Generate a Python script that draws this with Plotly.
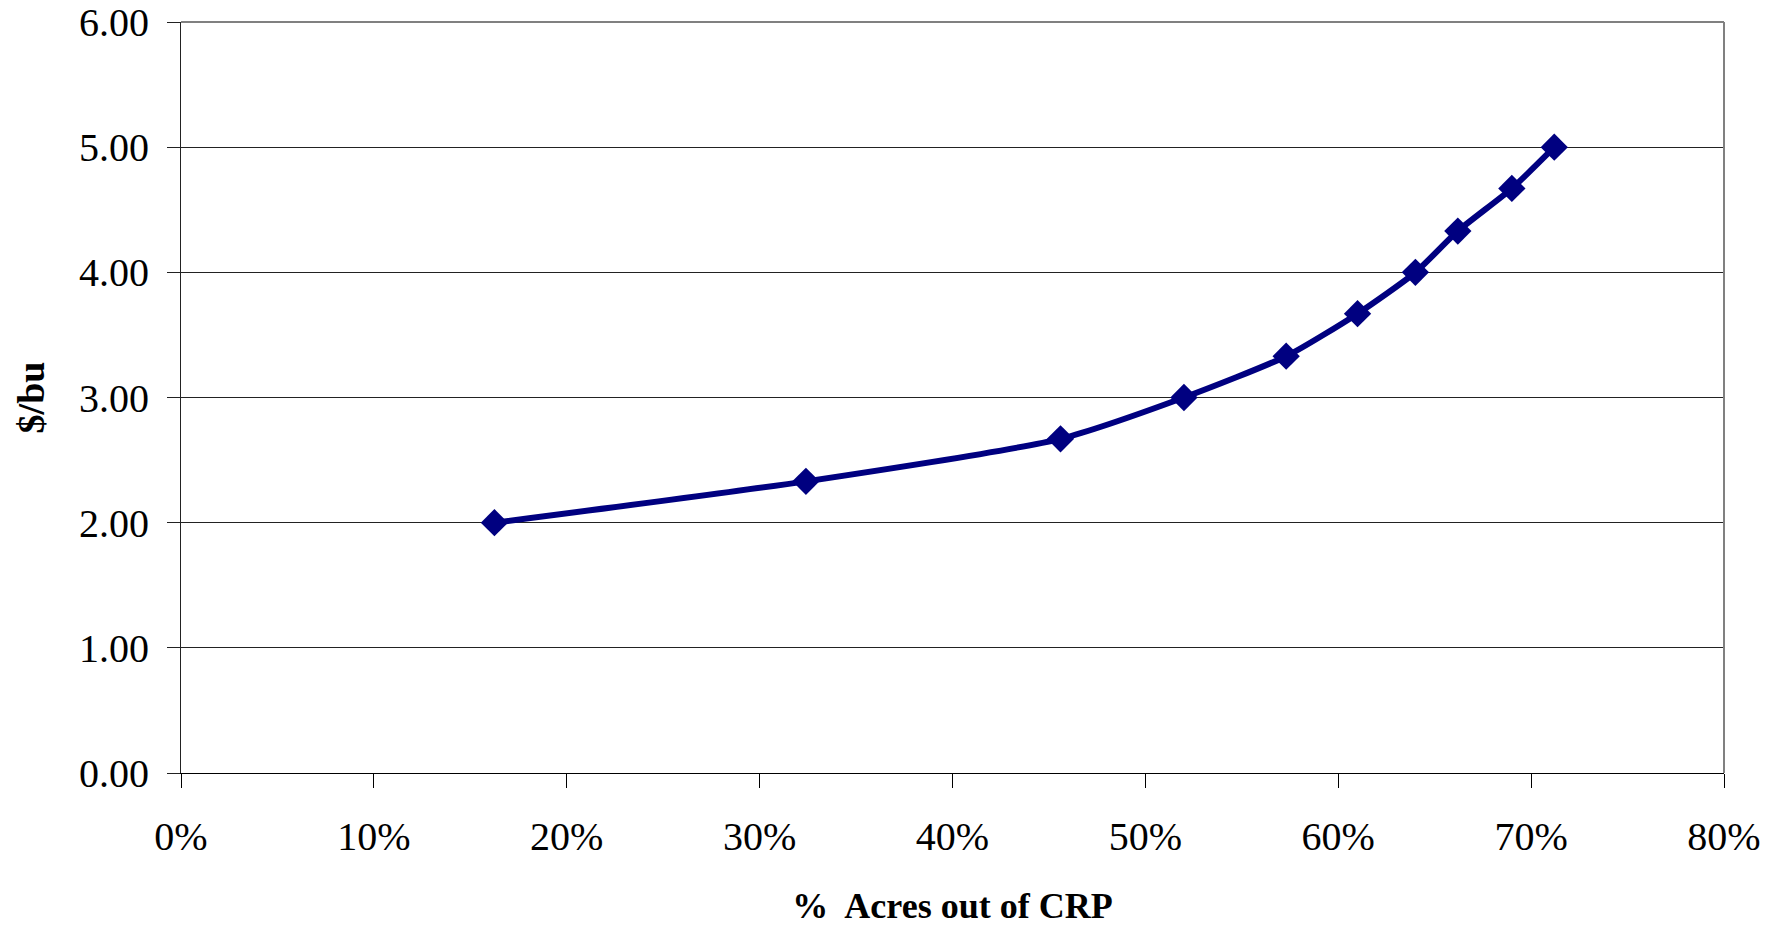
import plotly.graph_objects as go

# Data
acres_out_pct = [16.25, 32.4, 45.6, 52.0, 57.3, 61.0, 64.0, 66.2, 69.0, 71.2]
price_per_bu = [2.00, 2.33, 2.67, 3.00, 3.33, 3.67, 4.00, 4.33, 4.67, 5.00]
x_tick_vals = [0, 10, 20, 30, 40, 50, 60, 70, 80]
x_tick_text = ["0%", "10%", "20%", "30%", "40%", "50%", "60%", "70%", "80%"]
y_tick_vals = [0, 1, 2, 3, 4, 5, 6]
y_tick_text = ["0.00", "1.00", "2.00", "3.00", "4.00", "5.00", "6.00"]

FONT = "Liberation Serif, Times New Roman, serif"

fig = go.Figure()
fig.add_trace(go.Scatter(
    x=acres_out_pct,
    y=price_per_bu,
    mode="lines+markers",
    line=dict(color="#000080", width=6, shape="spline", smoothing=0.6),
    marker=dict(symbol="diamond", size=21, color="#000080"),
    showlegend=False,
))

fig.update_layout(
    width=1781,
    height=926,
    margin=dict(l=181, r=57, t=22, b=153),
    paper_bgcolor="white",
    plot_bgcolor="white",
    font=dict(family=FONT, color="black"),
    xaxis=dict(
        range=[0, 80],
        tickvals=x_tick_vals,
        ticktext=x_tick_text,
        ticks="outside",
        ticklen=14,
        tickcolor="black",
        tickwidth=1,
        ticklabelstandoff=14,
        ticklabeloverflow="allow",
        showline=True,
        linecolor="black",
        linewidth=1,
        showgrid=False,
        zeroline=False,
        automargin=False,
        tickfont=dict(family=FONT, size=40, color="black"),
        title=dict(text="<b>%  Acres out of CRP</b>", font=dict(family=FONT, size=36, color="black"), standoff=36),
    ),
    yaxis=dict(
        range=[0, 6],
        tickvals=y_tick_vals,
        ticktext=y_tick_text,
        ticks="outside",
        ticklen=13,
        tickcolor="#222222",
        tickwidth=1,
        ticklabelstandoff=10,
        ticklabeloverflow="allow",
        showline=True,
        linecolor="#222222",
        linewidth=1,
        showgrid=True,
        gridcolor="#222222",
        gridwidth=1,
        zeroline=False,
        automargin=False,
        tickfont=dict(family=FONT, size=40, color="black"),
        title=dict(text="<b>$/bu</b>", font=dict(family=FONT, size=38, color="black"), standoff=22),
    ),
    shapes=[
        dict(type="line", xref="paper", yref="paper", x0=1, x1=1, y0=0, y1=1,
             line=dict(color="#808080", width=2)),
        dict(type="line", xref="paper", yref="paper", x0=0, x1=1, y0=1, y1=1,
             line=dict(color="#808080", width=2)),
    ],
)

# remove the browser's default 8px body margin so the figure fills the window exactly
fig.write_html(
    "out.html",
    config={"displayModeBar": False},
    post_script="document.body.style.margin='0';",
)
